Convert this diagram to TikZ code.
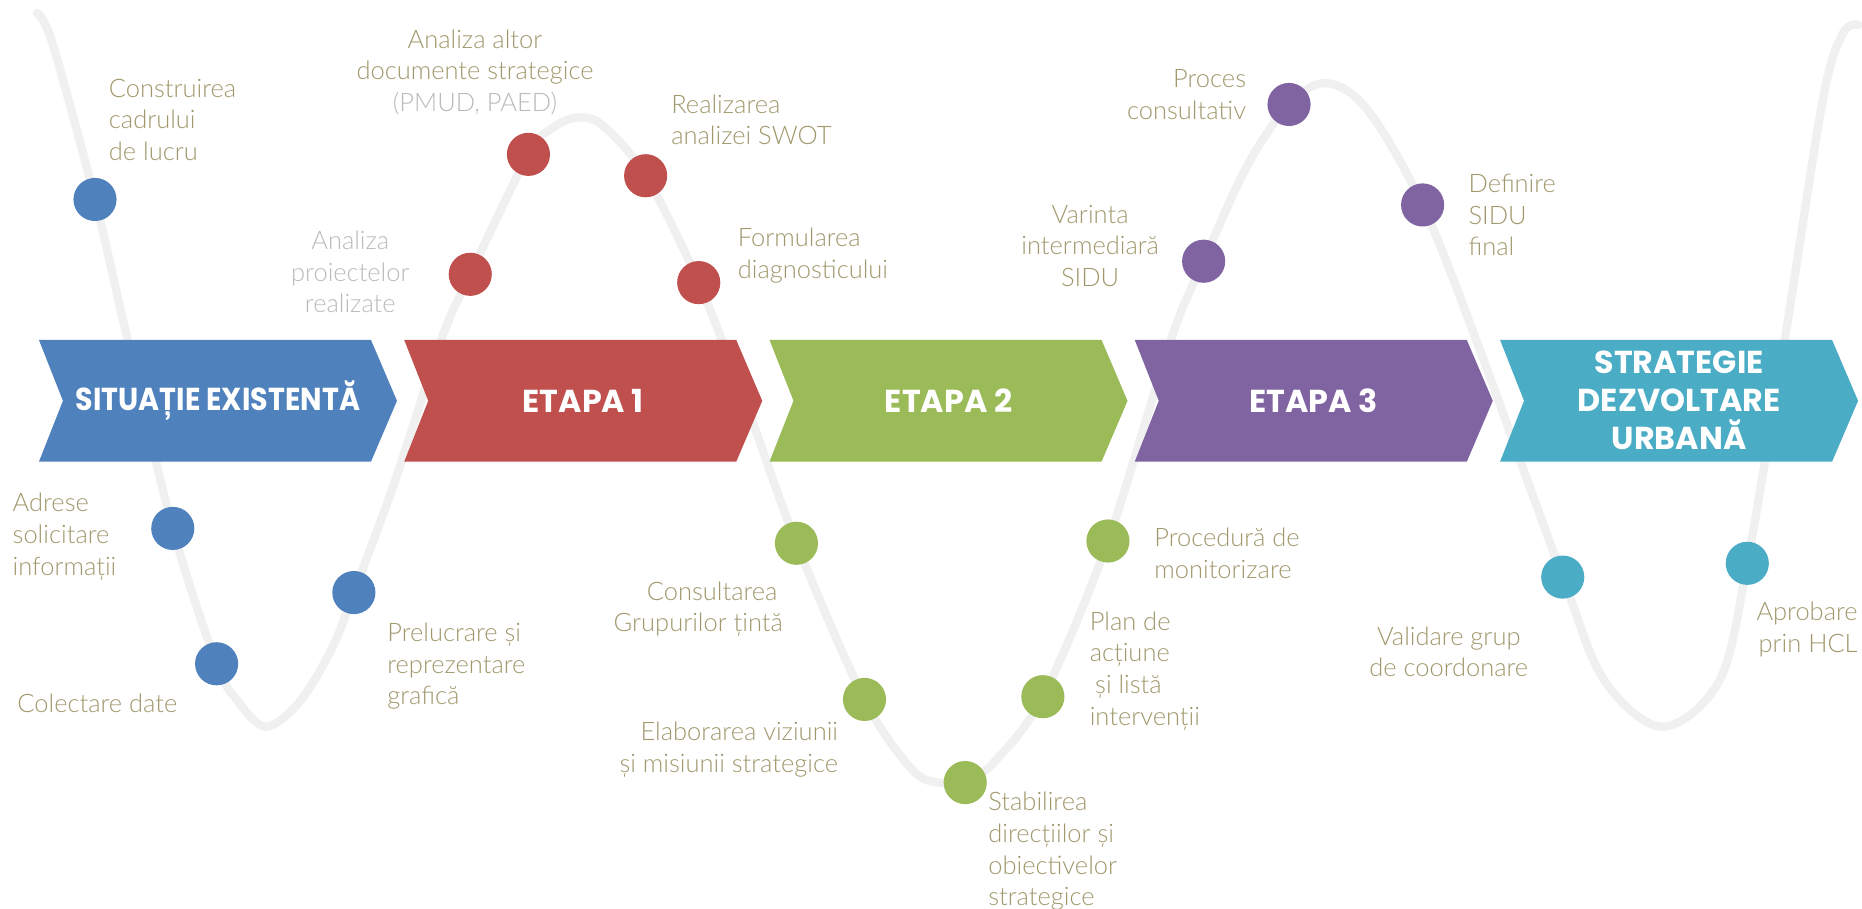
\documentclass[tikz,border=0pt]{standalone}
\usepackage{fontspec}
\usepackage{graphicx}
\setmainfont{Lato Light}
\newfontfamily\popfont{Poppins}
\definecolor{cblue}{HTML}{4F81BD}
\definecolor{cred}{HTML}{C0504D}
\definecolor{cgreen}{HTML}{9BBB59}
\definecolor{cpurple}{HTML}{8064A2}
\definecolor{cteal}{HTML}{4BACC6}
\definecolor{txt}{RGB}{160,152,108}
\definecolor{ltxt}{RGB}{186,186,186}
\definecolor{wave}{HTML}{F0F0F0}
\tikzset{
  lbl/.style={font=\fontsize{6.1}{7.6}\selectfont, text=txt, inner sep=0pt, align=left},
  chevtext/.style={font=\popfont\bfseries\fontsize{7.6}{9.1}\selectfont, text=white, align=center, inner sep=0pt},
  dot/.style={circle, inner sep=0pt, minimum size=0.363cm},
  wavestyle/.style={draw=wave, line width=2pt, line cap=round}
}
\begin{document}
\begin{tikzpicture}[x=0.01cm, y=-0.01cm]
\useasboundingbox (0,0) rectangle (1568,765);
\fill[white] (0,0) rectangle (1568,765);
% wave
\draw[wavestyle] plot[smooth, tension=0.55] coordinates {
 (31,11) (44,36) (80,168) (106,280) (145.5,445) (182.4,559) (200,590) (224,612)
 (253,590) (280,545) (298,499) (333,404) (372,285) (396,231) (445,130) (465,108)
 (486,99) (508,106) (543.7,148) (588.4,238) (630,345) (670.7,457.5) (728,589)
 (768,648) (791,659) (813,657) (836,643) (878.2,586.7) (933,455.6) (986,286)
 (1013.6,220) (1050,140) (1085.5,88) (1117,70) (1152,93) (1198,172.6) (1243,286)
 (1316,486) (1351,573) (1400,612) (1448,573) (1471.4,474.4) (1503,286) (1535,84)
 (1552,28) (1565,21)};
% chevrons
\foreach \i/\c in {0/cblue,1/cred,2/cgreen,3/cpurple,4/cteal}{
  \fill[\c] ({32.8+307.6*\i},286.3) -- ++(279.6,0) -- ++(21.9,51.25) -- ++(-21.9,51.25)
     -- ++(-279.6,0) -- ++(20.2,-51.25) -- cycle;
}
\node[chevtext] (c1) at (183.5,337.5) {\scalebox{0.9}[1]{SITUAȚIE EXISTENTĂ}};
\node[chevtext] (c2) at (491.2,337.5) {ETAPA 1};
\node[chevtext] (c3) at (798.8,337.5) {ETAPA 2};
\node[chevtext] (c4) at (1106.4,337.5) {ETAPA 3};
\node[chevtext] (c5) at (1414,337.5) {STRATEGIE\\DEZVOLTARE\\URBANĂ};
% dots
\node[dot, fill=cblue] (d1) at (80,168) {};
\node[dot, fill=cblue] (d2) at (145.5,445) {};
\node[dot, fill=cblue] (d3) at (182.4,559) {};
\node[dot, fill=cblue] (d4) at (298,499) {};
\node[dot, fill=cred] (d5) at (396,231) {};
\node[dot, fill=cred] (d6) at (445,130) {};
\node[dot, fill=cred] (d7) at (543.7,148) {};
\node[dot, fill=cred] (d8) at (588.4,238) {};
\node[dot, fill=cgreen] (d9) at (670.7,457.5) {};
\node[dot, fill=cgreen] (d10) at (728,589) {};
\node[dot, fill=cgreen] (d11) at (812.8,659) {};
\node[dot, fill=cgreen] (d12) at (878.2,586.7) {};
\node[dot, fill=cgreen] (d13) at (933,455.6) {};
\node[dot, fill=cpurple] (d14) at (1013.6,220) {};
\node[dot, fill=cpurple] (d15) at (1085.5,88) {};
\node[dot, fill=cpurple] (d16) at (1198,172.6) {};
\node[dot, fill=cteal] (d17) at (1316,486) {};
\node[dot, fill=cteal] (d18) at (1471.4,474.4) {};
% labels
\node[lbl, anchor=west] (l1) at (91,101) {Construirea\\cadrului\\de lucru};
\node[lbl, align=center] (l2) at (400,61) {Analiza altor\\documente strategice\\\textcolor{ltxt}{(PMUD, PAED)}};
\node[lbl, anchor=west] (l3) at (564.6,101) {Realizarea\\analizei SWOT};
\node[lbl, align=center, text=ltxt] (l4) at (295,229) {Analiza\\proiectelor\\realizate};
\node[lbl, anchor=west] (l5) at (620.6,215.5) {Formularea\\diagnosticului};
\node[lbl, align=right, anchor=east] (l6) at (1050,79.5) {Proces\\consultativ};
\node[lbl, align=center] (l7) at (918,207) {Varinta\\intermediară\\SIDU};
\node[lbl, anchor=west] (l8) at (1236,181) {Definire\\SIDU\\final};
\node[lbl, anchor=west] (l9) at (10,452) {Adrese\\solicitare\\informații};
\node[lbl, anchor=west] (l10) at (14,592) {Colectare date};
\node[lbl, anchor=west] (l11) at (325.5,561) {Prelucrare și\\reprezentare\\grafică};
\node[lbl, align=right, anchor=east] (l12) at (660,513) {Consultarea\hspace*{1.3pt}\\Grupurilor țintă};
\node[lbl, align=right, anchor=east] (l13) at (706.4,631.5) {Elaborarea viziunii\\și misiunii strategice};
\node[lbl, anchor=west] (l14) at (831.6,717) {Stabilirea\\direcțiilor și\\obiectivelor\\strategice};
\node[lbl, anchor=west] (l15) at (917,565) {Plan de\\acțiune\\\hspace*{1.3pt}și listă\\intervenții};
\node[lbl, anchor=west] (l16) at (971.4,466) {Procedură de\\monitorizare};
\node[lbl, align=center] (l17) at (1220,549) {Validare grup\\de coordonare};
\node[lbl, align=right, anchor=east] (l18) at (1565,530) {Aprobare\\prin HCL};
\end{tikzpicture}
\end{document}
